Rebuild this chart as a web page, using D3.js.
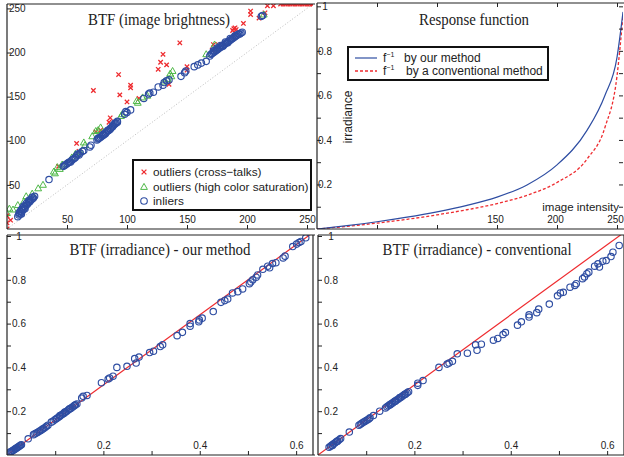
<!DOCTYPE html>
<html>
<head>
<meta charset="utf-8">
<script src="https://cdn.jsdelivr.net/npm/d3@7"></script>
<style>
  body { margin: 0; background: #fff; }
  svg { display: block; }
</style>
</head>
<body>
<div id="chart"></div>
<script>
// ---- data ----
// top-left: BTF in image brightness (x: image 1, y: image 2)
const crossTalks = [
  [0,0],[0,7],[0,15],[3,10],[43,71],[58,97],[60,88],[72,157],[74,110],[78,112],
  [85,121],[86,126],[93,175],[94,152],[100,144],[103,160],[103,163],[110,148],
  [126,181],[128,189],[130,198],[133,186],[135,164],[144,211],[150,180],[150,184],
  [171,203],[172,209],[176,209],[189,227],[190,228],[191,226],[188,225],
  [197,233],[203,243],[203,247],[210,239],[215,245],[217,253],[222,253],
  [228,255],[230,255],[232,255],[234,255],[236,255],[238,255],[240,255],[242,255],
  [244,255],[246,255],[248,255],[250,255],[252,255],[254,255],[255,255]
];
const saturated = [
  [0,18],[2,23],[5,22],[9,27],[14,31],[16,37],[21,40],[26,46],[30,50],
  [39,65],[40,63],[42,70],[44,68],[46,73],[54,81],[57,85],[61,87],[64,98],[65,95],
  [71,105],[74,111],[76,112],[78,115],[95,128],[96,130],[108,145],[109,143],
  [113,149],[117,151],[131,167],[134,170],[136,176],[138,179],[137,173],
  [166,198],[173,209],[214,243]
];
const inliers = [
  [9,14],[10,16],[10,18],[11,17],[11,20],[12,19],[12,22],[13,21],[13,24],[14,23],
  [14,26],[15,25],[16,27],[16,29],[17,28],[18,30],[18,32],[19,31],[20,33],[21,34],
  [22,35],[23,37],[21,36],[19,33],[15,23],[12,17],
  [35,56],
  [47,71],[48,72],[49,73],[50,74],[51,75],[52,76],[53,76],[54,78],[55,79],[56,80],
  [57,81],[58,83],[60,84],[61,86],[59,85],[63,88],[64,89],
  [69,93],[70,95],
  [75,101],[76,102],[77,103],[78,104],[79,105],[80,107],[81,107],[82,109],[83,110],
  [84,111],[85,112],[86,113],[87,115],[88,116],[89,118],[90,119],[91,120],[92,121],
  [92,122],[90,120],[88,117],[86,114],[84,112],[82,108],[80,106],[76,103],
  [98,130],[99,133],[100,132],[103,135],[114,148],[118,153],[119,154],[122,155],
  [126,161],[130,163],[131,166],[133,168],[135,169],[145,173],[148,177],[149,179],
  [156,184],[159,186],[162,188],[166,190],[169,196],
  [170,198],[171,199],[172,200],[173,201],[174,202],[175,203],[176,204],[177,205],
  [178,206],[179,207],[180,208],[181,209],[182,210],[183,211],[184,212],[185,213],
  [186,214],[187,215],[188,216],[189,217],[190,218],[191,219],[192,220],[193,221],
  [194,221],[195,222],[196,223],[172,202],[175,205],[178,208],[182,212],[186,216],
  [190,219],[180,207],[184,211],
  [212,241],[213,242]
];

// top-right: inverse response functions
const intensity = [0, 25, 50, 75, 100, 125, 150, 175, 200, 225, 240, 250, 255];
const invOurs   = [0, 0.015, 0.0325, 0.053, 0.077, 0.106, 0.143, 0.198, 0.288, 0.443, 0.601, 0.771, 0.975];
const invConv   = [0, 0.012, 0.0265, 0.0435, 0.0635, 0.0865, 0.114, 0.1515, 0.209, 0.314, 0.457, 0.687, 0.96];

// bottom: BTF in irradiance
const irrOurs = [
  [0.006,0.012],[0.008,0.015],[0.010,0.017],[0.012,0.02],[0.014,0.023],[0.016,0.026],
  [0.018,0.029],[0.020,0.032],[0.022,0.035],[0.024,0.038],[0.026,0.041],[0.028,0.044],
  [0.030,0.047],[0.044,0.074],
  [0.055,0.093],[0.058,0.097],[0.061,0.1],[0.064,0.104],[0.067,0.108],[0.070,0.112],
  [0.073,0.117],[0.076,0.121],[0.079,0.126],[0.082,0.131],[0.085,0.136],
  [0.092,0.15],[0.096,0.155],
  [0.100,0.162],[0.103,0.167],[0.106,0.171],[0.109,0.176],[0.112,0.181],[0.115,0.186],
  [0.118,0.19],[0.121,0.195],[0.124,0.2],[0.127,0.205],[0.130,0.21],[0.133,0.214],
  [0.136,0.219],[0.139,0.224],[0.142,0.229],[0.145,0.233],[0.11,0.18],[0.12,0.196],
  [0.13,0.211],[0.14,0.226],
  [0.155,0.26],[0.158,0.268],[0.166,0.272],
  [0.196,0.33],[0.21,0.347],[0.213,0.352],[0.22,0.36],[0.228,0.4],[0.249,0.405],
  [0.265,0.44],[0.268,0.42],[0.274,0.447],[0.296,0.468],[0.304,0.474],[0.318,0.495],
  [0.323,0.503],[0.353,0.545],[0.364,0.56],[0.38,0.588],[0.38,0.6],[0.398,0.608],
  [0.399,0.617],[0.405,0.625],[0.428,0.655],[0.444,0.697],[0.452,0.705],[0.458,0.712],
  [0.468,0.74],[0.479,0.746],[0.489,0.758],[0.503,0.782],[0.506,0.79],[0.51,0.8],
  [0.517,0.812],[0.52,0.822],[0.531,0.848],[0.541,0.862],[0.545,0.855],[0.551,0.874],
  [0.558,0.878],[0.573,0.9],[0.577,0.908],[0.593,0.952],[0.601,0.963],[0.606,0.97],
  [0.61,0.975],[0.62,0.992]
];
const irrConv = [
  [0.023,0.035],[0.026,0.04],[0.029,0.045],[0.032,0.05],[0.035,0.055],[0.038,0.06],
  [0.041,0.065],[0.044,0.07],[0.047,0.075],[0.03,0.043],[0.04,0.062],
  [0.065,0.105],
  [0.085,0.136],[0.088,0.14],[0.091,0.145],[0.094,0.149],[0.097,0.153],[0.100,0.157],
  [0.103,0.161],[0.106,0.165],[0.108,0.17],[0.115,0.18],[0.128,0.2],
  [0.14,0.215],[0.143,0.22],[0.146,0.225],[0.149,0.229],[0.152,0.234],[0.155,0.238],
  [0.158,0.243],[0.161,0.247],[0.164,0.252],[0.167,0.256],[0.170,0.261],[0.173,0.265],
  [0.176,0.27],[0.179,0.275],[0.182,0.279],[0.185,0.284],[0.188,0.289],[0.15,0.23],
  [0.16,0.246],[0.17,0.262],[0.18,0.276],
  [0.207,0.318],[0.207,0.328],[0.218,0.34],[0.251,0.4],[0.268,0.415],[0.272,0.42],
  [0.279,0.428],[0.289,0.462],[0.31,0.465],[0.327,0.503],[0.33,0.478],[0.339,0.506],
  [0.364,0.524],[0.373,0.532],[0.384,0.55],[0.389,0.559],[0.414,0.593],[0.422,0.608],
  [0.438,0.63],[0.438,0.64],[0.454,0.65],[0.458,0.666],[0.48,0.689],[0.497,0.727],
  [0.503,0.74],[0.509,0.743],[0.523,0.766],[0.533,0.774],[0.536,0.782],[0.549,0.805],
  [0.553,0.813],[0.558,0.828],[0.562,0.835],[0.574,0.862],[0.581,0.873],[0.584,0.858],
  [0.591,0.885],[0.598,0.888],[0.608,0.906],[0.612,0.926],[0.625,0.957]
];
// ideal line drawn in both irradiance panels
const idealX = [0, 0.635];
const idealY = [0, 1.016];

// ticks and labels
const brightTicks  = [50, 100, 150, 200, 250];
const respXLabels  = [150, 200, 250];
const unitTicks    = [0.1, 0.2, 0.3, 0.4, 0.5, 0.6, 0.7, 0.8, 0.9, 1];
const unitLabels   = [0.2, 0.4, 0.6, 0.8, 1];
const irrXTicks    = [0.1, 0.2, 0.3, 0.4, 0.5, 0.6];
const irrXLabels   = [0.2, 0.4, 0.6];

const titles = ['BTF (image brightness)', 'Response function',
                'BTF (irradiance) - our method', 'BTF (irradiance) - conventional'];
const scatterLegend = ['outliers (cross\u2212talks)', 'outliers (high color saturation)', 'inliers'];
const curveLegend = ['by our method', 'by a conventional method'];

// ---- drawing ----
const BLUE = '#2e4da2', RED = '#ee2b2f', GREEN = '#4fb848';
const SANS = 'Liberation Sans, Arial, sans-serif';
const SERIF = 'Liberation Serif, Times New Roman, serif';

const svg = d3.select('#chart').append('svg')
  .attr('width', 624).attr('height', 457);

const has = (list, v) => list.some(d => Math.abs(d - v) < 1e-9);

let clipId = 0;
const panel = (p) => {
  const x = d3.scaleLinear().domain(p.xDomain).range([p.left, p.right]);
  const y = d3.scaleLinear().domain(p.yDomain).range([p.bottom, p.top]);
  const g = svg.append('g');

  const id = 'clip' + (clipId++);
  svg.append('clipPath').attr('id', id).append('rect')
    .attr('x', p.left).attr('y', p.frameTop)
    .attr('width', p.right - p.left).attr('height', p.bottom - p.frameTop);
  const plot = g.append('g').attr('clip-path', 'url(#' + id + ')');

  // left axis, ticks inward, labels inside
  const yAxis = g.append('g')
    .attr('transform', 'translate(' + p.left + ',0)')
    .call(d3.axisLeft(y).tickValues(p.yTicks).tickSize(-4)
      .tickFormat(d => has(p.yLabels, d) ? d3.format('~g')(d) : ''));
  yAxis.select('.domain').remove();
  yAxis.selectAll('text')
    .attr('x', p.yLabelX).attr('text-anchor', p.yAnchor)
    .style('font-family', SANS).style('font-size', '10px').attr('fill', '#222');

  const xAxis = g.append('g')
    .attr('transform', 'translate(0,' + p.bottom + ')')
    .call(d3.axisBottom(x).tickValues(p.xTicks).tickSize(-4)
      .tickFormat(d => has(p.xLabels, d) ? d3.format('~g')(d) : ''));
  xAxis.select('.domain').remove();
  xAxis.selectAll('text')
    .attr('y', -6).attr('dy', 0).attr('x', p.xLabelShift || 0)
    .style('font-family', SANS).style('font-size', '10px').attr('fill', '#222');

  if (p.boxTicks) {
    const r = g.append('g').attr('transform', 'translate(' + p.right + ',0)')
      .call(d3.axisRight(y).tickValues(p.yTicks).tickSize(-4).tickFormat(''));
    r.select('.domain').remove();
    const t = g.append('g').attr('transform', 'translate(0,' + p.frameTop + ')')
      .call(d3.axisTop(x).tickValues(p.xTicks).tickSize(-4).tickFormat(''));
    t.select('.domain').remove();
  }
  g.selectAll('.tick line').attr('stroke', '#222');

  // frame
  const frame = [[p.left, p.frameTop, p.left, p.bottom], [p.left, p.bottom, p.right + 2, p.bottom],
                 [p.left, p.frameTop, p.right + 2, p.frameTop]];
  if (p.rightEdge) frame.push([p.right, p.frameTop, p.right, p.bottom]);
  g.selectAll('.frame').data(frame).enter().append('line')
    .attr('x1', d => d[0]).attr('y1', d => d[1]).attr('x2', d => d[2]).attr('y2', d => d[3])
    .attr('stroke', '#222').attr('stroke-width', 1.2);

  g.append('text')
    .attr('x', p.titleX).attr('y', p.titleY)
    .attr('text-anchor', 'middle')
    .attr('textLength', p.titleWidth).attr('lengthAdjust', 'spacingAndGlyphs')
    .style('font-family', SERIF).style('font-size', '16px').attr('fill', '#222')
    .text(p.title);

  return { x, y, plot, g };
};

const drawCircles = (layer, data, x, y) => {
  layer.selectAll(null).data(data).enter().append('circle')
    .attr('cx', d => x(d[0])).attr('cy', d => y(d[1])).attr('r', 3.2)
    .attr('fill', 'none').attr('stroke', BLUE).attr('stroke-width', 1.15);
};

// ---- top-left ----
const tl = panel({
  left: 7, right: 313, top: 4, bottom: 229, frameTop: 4,
  xDomain: [0, 255], yDomain: [0, 255],
  xTicks: brightTicks, xLabels: brightTicks, yTicks: brightTicks, yLabels: brightTicks,
  yLabelX: 2, yAnchor: 'start',
  title: titles[0], titleX: 159, titleY: 25, titleWidth: 142
});
tl.plot.append('line')
  .attr('x1', tl.x(0)).attr('y1', tl.y(0)).attr('x2', tl.x(255)).attr('y2', tl.y(255))
  .attr('stroke', '#aaa').attr('stroke-width', 0.8).attr('stroke-dasharray', '1,2');

const xMark = (sel, s) => sel.append('path')
  .attr('d', 'M' + (-s) + ',' + (-s) + 'L' + s + ',' + s + 'M' + (-s) + ',' + s + 'L' + s + ',' + (-s))
  .attr('stroke', RED).attr('stroke-width', 1.3).attr('fill', 'none');
const triMark = (sel) => sel.append('path')
  .attr('d', 'M0,-3.6L3.4,2.4L-3.4,2.4Z')
  .attr('stroke', GREEN).attr('stroke-width', 1).attr('fill', 'none');

tl.plot.selectAll('.xm').data(crossTalks).enter().append('g')
  .attr('transform', d => 'translate(' + tl.x(d[0]) + ',' + tl.y(d[1]) + ')')
  .each(function() { xMark(d3.select(this), 2.2); });
tl.plot.selectAll('.tri').data(saturated).enter().append('g')
  .attr('transform', d => 'translate(' + tl.x(d[0]) + ',' + tl.y(d[1]) + ')')
  .each(function() { triMark(d3.select(this)); });
drawCircles(tl.plot, inliers, tl.x, tl.y);

// legend top-left
const lg1 = svg.append('g');
lg1.append('rect').attr('x', 133).attr('y', 160).attr('width', 178).attr('height', 50)
  .attr('fill', '#fff').attr('stroke', '#111').attr('stroke-width', 2);
xMark(lg1.append('g').attr('transform', 'translate(144,172)'), 2.4);
triMark(lg1.append('g').attr('transform', 'translate(144,187)'));
lg1.append('circle').attr('cx', 144).attr('cy', 201).attr('r', 3.3)
  .attr('fill', 'none').attr('stroke', BLUE).attr('stroke-width', 1.1);
lg1.selectAll('.lt').data(scatterLegend).enter().append('text')
  .attr('x', 153).attr('y', (d, i) => 176 + i * 14.5)
  .style('font-family', SANS).style('font-size', '11.8px').attr('fill', '#222')
  .text(d => d);

// ---- top-right ----
const tr = panel({
  left: 317, right: 623, top: 3, bottom: 229, frameTop: 3,
  xDomain: [0, 255], yDomain: [0, 1.015],
  xTicks: brightTicks, xLabels: respXLabels, yTicks: unitTicks, yLabels: unitLabels,
  yLabelX: 8, yAnchor: 'middle', boxTicks: true, xLabelShift: -2,
  title: titles[1], titleX: 474, titleY: 25, titleWidth: 110
});
const respLine = (vals) => d3.line()
  .x((d, i) => tr.x(intensity[i])).y(d => tr.y(d))
  .curve(d3.curveMonotoneX)(vals);
tr.plot.append('path').attr('d', respLine(invConv))
  .attr('fill', 'none').attr('stroke', RED).attr('stroke-width', 1.3).attr('stroke-dasharray', '3,2');
tr.plot.append('path').attr('d', respLine(invOurs))
  .attr('fill', 'none').attr('stroke', BLUE).attr('stroke-width', 1.2);

tr.g.append('text')
  .attr('transform', 'translate(352,117) rotate(-90)')
  .attr('text-anchor', 'middle')
  .style('font-family', SANS).style('font-size', '12px').attr('fill', '#222')
  .text('irradiance');
tr.g.append('text')
  .attr('x', 619).attr('y', 211).attr('text-anchor', 'end')
  .style('font-family', SANS).style('font-size', '11.5px').attr('fill', '#222')
  .text('image intensity');

// legend top-right
const lg2 = svg.append('g');
lg2.append('rect').attr('x', 348).attr('y', 47).attr('width', 200).attr('height', 33)
  .attr('fill', '#fff').attr('stroke', '#111').attr('stroke-width', 2);
lg2.append('line').attr('x1', 355).attr('x2', 377).attr('y1', 58).attr('y2', 58)
  .attr('stroke', BLUE).attr('stroke-width', 1.2);
lg2.append('line').attr('x1', 355).attr('x2', 377).attr('y1', 71).attr('y2', 71)
  .attr('stroke', RED).attr('stroke-width', 1.3).attr('stroke-dasharray', '3,2');
curveLegend.forEach((label, i) => {
  const yy = 62 + i * 13;
  const t = lg2.append('text').attr('x', 383).attr('y', yy)
    .style('font-family', SANS).style('font-size', '12px').attr('fill', '#222');
  t.append('tspan').text('f');
  t.append('tspan').attr('dy', -5).style('font-size', '7px').text('\u22121');
  lg2.append('text').attr('x', i === 0 ? 404 : 406).attr('y', yy)
    .style('font-family', SANS).style('font-size', '12px').attr('fill', '#222')
    .text(label);
});

// ---- bottom panels ----
const irrPanel = (left, right, data, title, titleX, titleWidth, yLabelX) => {
  const p = panel({
    left: left, right: right, top: 236, bottom: 455, frameTop: 235,
    xDomain: [0, 0.635], yDomain: [0, 1],
    xTicks: irrXTicks, xLabels: irrXLabels, yTicks: unitTicks, yLabels: unitLabels,
    yLabelX: yLabelX, yAnchor: 'middle', rightEdge: true,
    title: title, titleX: titleX, titleY: 255, titleWidth: titleWidth
  });
  p.plot.append('line')
    .attr('x1', p.x(idealX[0])).attr('y1', p.y(idealY[0]))
    .attr('x2', p.x(idealX[1])).attr('y2', p.y(idealY[1]))
    .attr('stroke', RED).attr('stroke-width', 1.2);
  drawCircles(p.plot, data, p.x, p.y);
};
irrPanel(7, 313, irrOurs, titles[2], 160, 181, 12);
irrPanel(318, 624, irrConv, titles[3], 477, 189, 13);
</script>
</body>
</html>
